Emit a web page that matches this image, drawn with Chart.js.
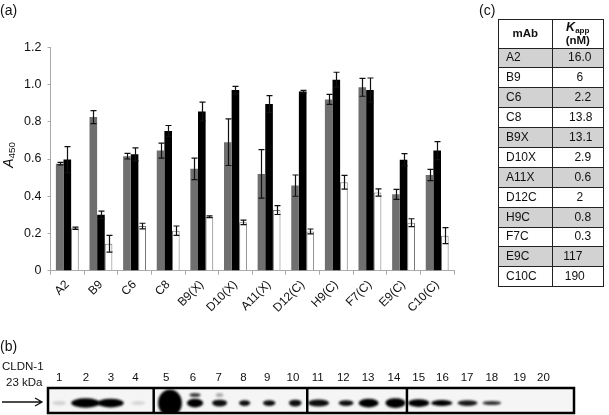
<!DOCTYPE html>
<html><head><meta charset="utf-8">
<script src="https://cdn.jsdelivr.net/npm/chart.js@4"></script>
<style>
html,body{margin:0;padding:0;background:#fff;width:609px;height:415px;overflow:hidden;font-family:"Liberation Sans",Arial,sans-serif;color:#111}
canvas{position:absolute;left:0}
.t{position:absolute;white-space:nowrap}
table{position:absolute;left:498px;top:19px;width:106px;border-collapse:collapse;font-size:12px;table-layout:fixed;border:1.5px solid #222}
td,th{border:1px solid #222;padding:0;text-align:center;height:19.9px;box-sizing:border-box;line-height:13px}
th{height:28.5px;font-size:11.5px;line-height:13px}
tr.g td{background:#d2d2d2}
td:first-child{text-align:left;padding-left:7px}
sub{font-size:70%;line-height:0;vertical-align:-2px}
</style></head><body>
<canvas id="bars" width="609" height="330" style="top:0;width:609px;height:330px"></canvas>
<canvas id="blot" width="609" height="60" style="top:355px;width:609px;height:60px"></canvas>
<div class="t" style="left:0;top:2px;font-size:14px">(a)</div>
<div class="t" style="left:0;top:338px;font-size:14px">(b)</div>
<div class="t" style="left:479px;top:2px;font-size:14px">(c)</div>
<div class="t" style="left:-5px;top:147px;font-size:14px;transform:rotate(-90deg);transform-origin:center"><i>A</i><sub>450</sub></div>
<div class="t" style="left:2px;top:360px;font-size:11.5px">CLDN-1</div>
<div class="t" style="left:6px;top:376px;font-size:11.5px">23 kDa</div>
<svg style="position:absolute;left:0;top:394px" width="46" height="16"><path d="M2 8H41M35 4L42 8L35 12" fill="none" stroke="#111" stroke-width="1.3"/></svg>
<table id="tbl"></table>
<script>
const categories=["A2","B9","C6","C8","B9(X)","D10(X)","A11(X)","D12(C)","H9(C)","F7(C)","E9(C)","C10(C)"];
const grayValues=[0.575,0.825,0.615,0.645,0.547,0.69,0.52,0.457,0.92,0.985,0.41,0.514];
const blackValues=[0.597,0.30,0.625,0.75,0.855,0.97,0.895,0.962,1.026,0.97,0.596,0.645];
const whiteValues=[0.228,0.145,0.24,0.215,0.29,0.26,0.326,0.211,0.475,0.42,0.258,0.188];
const grayErrors=[0.007,0.035,0.015,0.04,0.058,0.125,0.13,0.057,0.027,0.048,0.027,0.03];
const blackErrors=[0.07,0.02,0.035,0.03,0.05,0.02,0.045,0.007,0.04,0.065,0.033,0.048];
const whiteErrors=[0.006,0.045,0.015,0.025,0.005,0.012,0.024,0.013,0.037,0.019,0.021,0.043];
const yTicks=[0,0.2,0.4,0.6,0.8,1.0,1.2];

const mAbs=["A2","B9","C6","C8","B9X","D10X","A11X","D12C","H9C","F7C","E9C","C10C"];
const kApp=["16.0","6","2.2","13.8","13.1","2.9","0.6","2","0.8","0.3","117","190"];
const kAppNudge=[2,2,5,3,3,5,5,2,5,5,-5,-3];

const lanes=["1","2","3","4","5","6","7","8","9","10","11","12","13","14","15","16","17","18","19","20"];
const lanePositions=[1,2.07,3.06,4.04,5.27,6.34,7.36,8.35,9.3,10.33,11.32,12.34,13.33,14.36,15.35,16.3,17.28,18.27,19.38,20.33];
const bandPositions=[1,2.05,3.05,4.15,5.42,6.42,7.4,8.4,9.38,10.42,11.35,12.45,13.35,14.42,15.35,16.27,17.3,18.27];
const bandWidths=[0.55,1.15,1.05,0.55,0.95,0.65,0.6,0.45,0.5,0.5,0.85,0.6,0.8,0.8,0.85,0.85,0.8,0.75];
const bandHeights=[0.09,0.3,0.27,0.08,1.0,0.27,0.19,0.15,0.15,0.19,0.2,0.15,0.27,0.31,0.23,0.16,0.15,0.08];
const bandStrengths=[0.14,1,1,0.12,1,1,0.95,0.95,0.95,0.95,0.95,0.95,1,1,1,1,0.9,0.8];
const faintPositions=[6.42,7.4];
const faintWidths=[0.45,0.3];
const faintStrengths=[0.75,0.3];
const panelEdges=[0.55,4.77,10.9,14.88,21.55];

document.getElementById('tbl').innerHTML=
 '<colgroup><col style="width:51%"><col></colgroup><tr><th>mAb</th><th><i style="font-size:12.5px">K</i><sub>app</sub><br>(nM)</th></tr>'+
 mAbs.map((m,i)=>`<tr class="${i%2?'':'g'}"><td>${m}</td><td><span style="position:relative;left:${kAppNudge[i]}px">${kApp[i]}</span></td></tr>`).join('');

const errs=[grayErrors,blackErrors,whiteErrors];
const errorBars={id:'errorBars',afterDatasetsDraw(c){
  const g=c.ctx,y=c.scales.y;g.save();g.strokeStyle='#111';g.lineWidth=1.2;
  c.data.datasets.forEach((d,k)=>{c.getDatasetMeta(k).data.forEach((b,i)=>{
    const x=Math.round(b.x)+.5,hi=y.getPixelForValue(d.data[i]+errs[k][i]),lo=y.getPixelForValue(d.data[i]-errs[k][i]);
    g.beginPath();g.moveTo(x,hi);g.lineTo(x,lo);
    g.moveTo(x-3,hi);g.lineTo(x+3,hi);g.moveTo(x-3,lo);g.lineTo(x+3,lo);g.stroke();
  });});g.restore();}};

new Chart(document.getElementById('bars'),{type:'bar',plugins:[errorBars],
 data:{labels:categories,datasets:[
  {data:grayValues,backgroundColor:'#6f6f6f',borderWidth:0},
  {data:blackValues,backgroundColor:'#000',borderWidth:0},
  {data:whiteValues,backgroundColor:'#fff',borderColor:'#777',borderWidth:1}]},
 options:{responsive:false,animation:false,
  layout:{padding:{top:47.3,right:155,left:0,bottom:0}},
  datasets:{bar:{categoryPercentage:0.68,barPercentage:1}},
  plugins:{legend:{display:false},tooltip:{enabled:false}},
  scales:{
   x:{afterFit(s){s.height=59.3},
      grid:{drawOnChartArea:false,color:'#aaa',tickLength:4,offset:true},border:{color:'#aaa'},
      ticks:{autoSkip:false,minRotation:45,maxRotation:45,color:'#111',padding:3,font:{family:'"Liberation Sans"',size:12}}},
   y:{min:0,max:1.2,afterFit(s){s.width=50.5},
      afterBuildTicks(s){s.ticks=yTicks.map(v=>({value:v}))},
      grid:{drawOnChartArea:false,color:'#aaa',tickLength:3},border:{color:'#aaa'},
      ticks:{color:'#111',padding:6,font:{family:'"Liberation Sans"',size:12.5},callback:v=>v===0?'0':v.toFixed(1)}}
  }}});

const blotMarks={id:'blotMarks',beforeDatasetsDraw(c){
  const g=c.ctx,x=c.scales.x,y=c.scales.y,a=c.chartArea;
  g.save();
  g.fillStyle='#f5f5f5';g.fillRect(a.left,a.top,a.right-a.left,a.bottom-a.top);
  g.beginPath();g.rect(a.left,a.top,a.right-a.left,a.bottom-a.top);g.clip();
  g.filter='blur(1.2px)';
  const unit=Math.abs(x.getPixelForValue(2)-x.getPixelForValue(1)),ph=a.bottom-a.top;
  bandPositions.forEach((p,i)=>{
    g.fillStyle=`rgba(0,0,0,${bandStrengths[i]})`;g.beginPath();
    g.ellipse(x.getPixelForValue(p),y.getPixelForValue(0.6),bandWidths[i]*unit/2,bandHeights[i]*ph/2+1,0,0,Math.PI*2);g.fill();
  });
  faintPositions.forEach((p,i)=>{
    g.fillStyle=`rgba(0,0,0,${faintStrengths[i]})`;g.beginPath();
    g.ellipse(x.getPixelForValue(p),y.getPixelForValue(0.28),faintWidths[i]*unit/2,2,0,0,Math.PI*2);g.fill();
  });
  g.restore();
  g.save();g.strokeStyle='#000';g.lineWidth=2.5;
  g.strokeRect(a.left,a.top,a.right-a.left,a.bottom-a.top);
  panelEdges.slice(1,-1).forEach(p=>{const px=x.getPixelForValue(p);g.beginPath();g.moveTo(px,a.top);g.lineTo(px,a.bottom);g.stroke();});
  g.restore();
}};

new Chart(document.getElementById('blot'),{type:'scatter',plugins:[blotMarks],
 data:{datasets:[{data:[]}]},
 options:{responsive:false,animation:false,
  layout:{padding:{left:48,right:35,top:0,bottom:2}},
  plugins:{legend:{display:false},tooltip:{enabled:false}},
  scales:{
   x:{type:'linear',position:'top',min:panelEdges[0],max:panelEdges[4],
      afterFit(s){s.height=33},
      afterBuildTicks(s){s.ticks=lanePositions.map(v=>({value:v}))},
      grid:{display:false,drawTicks:false,tickLength:0},border:{display:false},
      ticks:{autoSkip:false,maxRotation:0,padding:3,color:'#111',font:{family:'"Liberation Sans"',size:11.5},
        callback:v=>lanes[lanePositions.indexOf(v)]}},
   y:{display:false,min:0,max:1,reverse:true}
  }}});
</script>
</body></html>
